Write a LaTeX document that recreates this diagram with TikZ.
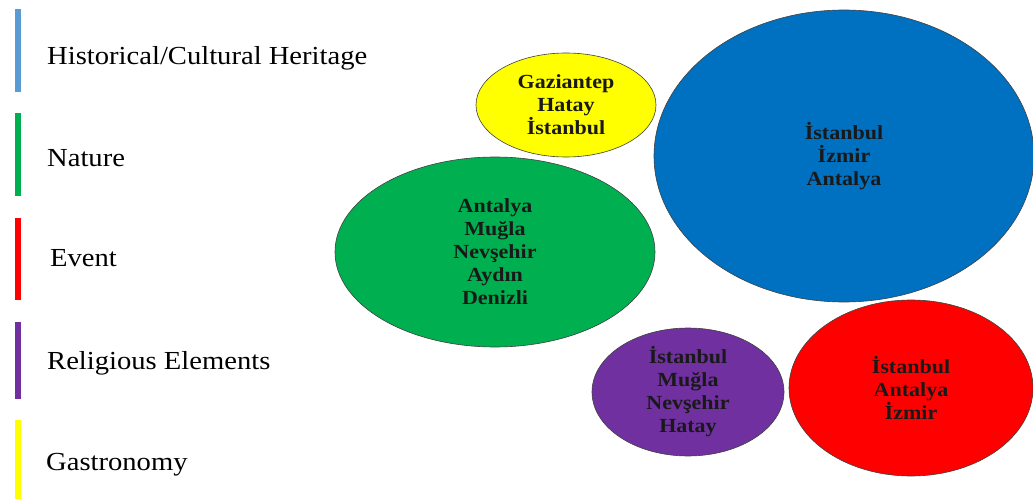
\documentclass[tikz,border=0pt]{standalone}
\usepackage{fontspec}
\setmainfont[FakeStretch=1.1]{Liberation Serif}
\usetikzlibrary{shapes.geometric}
\definecolor{keyblue}{HTML}{5B9BD5}
\definecolor{histblue}{HTML}{0070C0}
\definecolor{natgreen}{HTML}{00B050}
\definecolor{evred}{HTML}{FF0000}
\definecolor{relpurple}{HTML}{7030A0}
\definecolor{gasyellow}{HTML}{FFFF00}

\begin{document}
\begin{tikzpicture}[x=1pt,y=1pt,
  bubble/.style={ellipse,draw=black!75,line width=0.6pt,align=center,inner sep=0pt,text=black!90,font=\fontsize{20}{23}\selectfont\bfseries},
  key/.style={anchor=base west,inner sep=0pt,font=\fontsize{26}{30}\selectfont},
  bar/.style={minimum width=6pt,inner sep=0pt}]
\useasboundingbox (0,0) rectangle (1033,499);
% legend
\node[bar,fill=keyblue,minimum height=83pt](b1) at (18,448.5){};
\node[bar,fill=natgreen,minimum height=83pt](b2) at (18,344.5){};
\node[bar,fill=evred,minimum height=82pt](b3) at (18,240){};
\node[bar,fill=relpurple,minimum height=77pt](b4) at (18,138.5){};
\node[bar,fill=gasyellow,minimum height=79pt](b5) at (18,39.5){};
\node[key](k1) at (47,434){Historical/Cultural Heritage};
\node[key](k2) at (47,333){Nature};
\node[key](k3) at (50,233){Event};
\node[key](k4) at (47,130){Religious Elements};
\node[key](k5) at (46,29){Gastronomy};
% bubbles
\node[bubble,fill=gasyellow,minimum width=180pt,minimum height=104pt](gas) at (566,394){Gaziantep\\Hatay\\İstanbul};
\node[bubble,fill=histblue,minimum width=380pt,minimum height=292pt](hist) at (844,343){İstanbul\\İzmir\\Antalya};
\node[bubble,fill=natgreen,minimum width=320pt,minimum height=190pt](nat) at (495,247){Antalya\\Muğla\\Nevşehir\\Aydın\\Denizli};
\node[bubble,fill=evred,minimum width=244pt,minimum height=176pt](ev) at (911,111){İstanbul\\Antalya\\İzmir};
\node[bubble,fill=relpurple,minimum width=192pt,minimum height=128pt](rel) at (688,107){İstanbul\\Muğla\\Nevşehir\\Hatay};
\end{tikzpicture}
\end{document}
